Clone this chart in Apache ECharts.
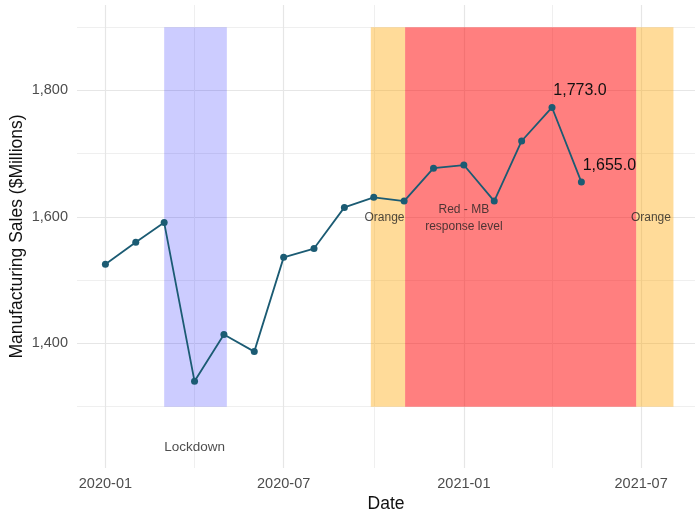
<!DOCTYPE html>
<html>
<head>
<meta charset="utf-8">
<script src="https://cdn.jsdelivr.net/npm/echarts@6/dist/echarts.min.js"></script>
<style>html,body{margin:0;padding:0;background:#fff}#c{width:695px;height:512px}</style>
</head>
<body>
<div id="c"></div>
<script>
// ---- data ----
const dates = ['2020-01-01','2020-02-01','2020-03-01','2020-04-01','2020-05-01','2020-06-01','2020-07-01','2020-08-01','2020-09-01','2020-10-01','2020-11-01','2020-12-01','2021-01-01','2021-02-01','2021-03-01','2021-04-01','2021-05-01'];
const sales = [1525, 1560, 1591, 1340, 1414, 1387, 1536, 1550, 1615, 1631, 1625, 1677, 1682, 1625, 1720, 1773, 1655];
const labelledDates = ['2021-04-01', '2021-05-01'];

const regionStart = ['2020-03-01', '2020-09-28', '2020-11-02', '2021-06-26'];
const regionEnd   = ['2020-05-04', '2020-11-02', '2021-06-26', '2021-08-03'];
const regionColor = ['rgba(0,0,255,0.2)', 'rgba(255,165,0,0.4)', 'rgba(255,0,0,0.5)', 'rgba(255,165,0,0.4)'];
const regionBottom = 1300, regionTop = 1900;

const noteDates = ['2020-04-01', '2020-10-12', '2021-01-01', '2021-07-11'];
const noteY = [1235, 1598, 1598, 1598];
const noteText = ['Lockdown', 'Orange', 'Red - MB\nresponse level', 'Orange'];

const yTicks = [1400, 1600, 1800];
const yMinor = [1300, 1500, 1700, 1900];
const xTicks = ['2020-01-01', '2020-07-01', '2021-01-01', '2021-07-01'];
const xMinor = ['2020-04-01', '2020-10-01', '2021-04-01'];

const xMin = '2019-12-03', xMax = '2021-08-25';
const yMin = 1203, yMax = 1935;

// ---- chart ----
const ts = s => Date.UTC(+s.slice(0, 4), +s.slice(5, 7) - 1, +s.slice(8, 10));
const fmtDate = v => { const d = new Date(v); return d.getUTCFullYear() + '-' + String(d.getUTCMonth() + 1).padStart(2, '0'); };
const FONT = 'Liberation Sans, Arial, sans-serif';
const chart = echarts.init(document.getElementById('c'), null, {renderer: 'canvas'});

const gridLines = [];
yTicks.forEach(v => gridLines.push({yAxis: v, lineStyle: {color: '#e6e6e6', width: 1.2, type: 'solid'}}));
yMinor.forEach(v => gridLines.push({yAxis: v, lineStyle: {color: '#efefef', width: 1, type: 'solid'}}));
xTicks.forEach(v => gridLines.push({xAxis: ts(v), lineStyle: {color: '#e6e6e6', width: 1.2, type: 'solid'}}));
xMinor.forEach(v => gridLines.push({xAxis: ts(v), lineStyle: {color: '#efefef', width: 1, type: 'solid'}}));

const areas = regionStart.map((s, i) => [
  {xAxis: ts(s), yAxis: regionBottom, itemStyle: {color: regionColor[i]}},
  {xAxis: ts(regionEnd[i]), yAxis: regionTop}
]);

const lineData = dates.map((d, i) => {
  const item = {value: [ts(d), sales[i]]};
  if (labelledDates.includes(d)) {
    item.label = {show: true, position: 'inside', offset: [28, -17],
      formatter: p => p.value[1].toLocaleString('en-US', {minimumFractionDigits: 1, maximumFractionDigits: 1}),
      color: '#111', fontSize: 16, fontFamily: FONT};
  }
  return item;
});

const notes = noteDates.map((d, i) => ({value: [ts(d), noteY[i]], name: noteText[i],
  label: i === 0 ? {fontSize: 13.5} : {}}));

chart.setOption({
  animation: false,
  backgroundColor: '#fff',
  grid: {left: 77, right: 0, top: 5, bottom: 44, containLabel: false, outerBoundsMode: 'none'},
  xAxis: {
    type: 'value', min: ts(xMin), max: ts(xMax), scale: true,
    name: 'Date', nameLocation: 'middle', nameGap: 27, nameMoveOverlap: false,
    nameTextStyle: {color: '#111', fontSize: 17.5, fontFamily: FONT},
    axisLine: {show: false}, axisTick: {show: false}, splitLine: {show: false},
    axisLabel: {customValues: xTicks.map(ts), formatter: v => fmtDate(v), color: '#4d4d4d', fontSize: 14.5, margin: 8,
      fontFamily: FONT}
  },
  yAxis: {
    type: 'value', min: yMin, max: yMax, scale: true,
    name: 'Manufacturing Sales ($Millions)', nameLocation: 'middle', nameGap: 51, nameMoveOverlap: false,
    nameTextStyle: {color: '#111', fontSize: 17.5, fontFamily: FONT},
    axisLine: {show: false}, axisTick: {show: false}, splitLine: {show: false},
    axisLabel: {customValues: yTicks, formatter: v => v.toLocaleString('en-US'), color: '#4d4d4d', fontSize: 14.5, margin: 9,
      fontFamily: FONT}
  },
  series: [
    {type: 'line', data: [], z: 1, silent: true,
      markLine: {z: 0, silent: true, symbol: 'none', label: {show: false}, animation: false, data: gridLines}},
    {type: 'line', data: [], z: 2, silent: true,
      markArea: {z: 1, silent: true, label: {show: false}, data: areas}},
    {type: 'line', data: lineData, z: 3, symbol: 'circle', symbolSize: 7,
      lineStyle: {color: '#1b5b73', width: 1.8}, itemStyle: {color: '#1b5b73'}},
    {type: 'scatter', z: 4, symbolSize: 0, silent: true, data: notes,
      label: {show: true, position: 'inside', formatter: p => p.name, color: '#222', fontSize: 12, lineHeight: 17,
        fontFamily: FONT}}
  ]
});
</script>
</body>
</html>
